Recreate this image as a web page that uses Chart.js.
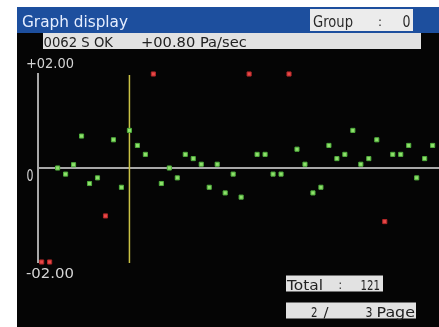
<!DOCTYPE html>
<html><head><meta charset="utf-8">
<script src="https://cdn.jsdelivr.net/npm/chart.js@4"></script>
<style>html,body{margin:0;padding:0;background:#fff;overflow:hidden}canvas{display:block}</style>
</head><body><canvas id="c" width="439" height="327"></canvas>
<script>
const headerTitle = 'Graph display';
const groupText = ['Group', ':', '0'];
const statusText = ['0062 S OK', '+00.80 Pa/sec'];
const yTickValues = [2, 0, -2];
const yTickLabels = ['+02.00', '0', '-02.00'];
const cursorIndex = 11;
const totalText = ['Total', ':', '121'];
const pageText = ['2', '/', '3', 'Page'];
const sampleIndex = [0,1,2,3,4,5,6,7,8,9,10,11,12,13,14,15,16,17,18,19,20,21,22,23,24,25,26,27,28,29,30,31,32,33,34,35,36,37,38,39,40,41,42,43,44,45,46,47,48,49];
const okValues = [null,null,0,-0.13,0.07,0.68,-0.33,-0.21,null,0.60,
                  -0.41,0.80,0.48,0.29,null,-0.33,0,-0.21,0.29,0.20,
                  0.08,-0.41,0.08,-0.53,-0.13,-0.62,null,0.29,0.29,-0.13,
                  -0.13,null,0.40,0.08,-0.53,-0.41,0.48,0.20,0.29,0.80,
                  0.08,0.20,0.60,null,0.29,0.29,0.48,-0.21,0.20,0.48];
const ngValues = [-2,-2,null,null,null,null,null,null,-1.02,null,
                  null,null,null,null,2,null,null,null,null,null,
                  null,null,null,null,null,null,2,null,null,null,
                  null,2,null,null,null,null,null,null,null,null,
                  null,null,null,-1.14,null,null,null,null,null,null];

function toPoints(vals){
  const out=[];
  sampleIndex.forEach((x,i)=>{ if(vals[i]!==null) out.push({x:x,y:vals[i]}); });
  return out;
}

function txt(ctx, s, x, y, w, size, color){
  ctx.save();
  ctx.font = size + 'px "DejaVu Sans"';
  ctx.fillStyle = color;
  ctx.textAlign = 'left';
  ctx.textBaseline = 'alphabetic';
  const m = ctx.measureText(s).width;
  ctx.translate(x, y);
  if (w) ctx.scale(w / m, 1);
  ctx.fillText(s, 0, 0);
  ctx.restore();
}

const screenPlugin = {
  id: 'screen',
  beforeDraw(chart){
    const ctx = chart.ctx;
    ctx.save();
    ctx.fillStyle = '#ffffff'; ctx.fillRect(0,0,439,327);
    ctx.fillStyle = '#050505'; ctx.fillRect(17,7,422,320);
    // header
    ctx.fillStyle = '#1d4f9e'; ctx.fillRect(17,7,422,26);
    txt(ctx, headerTitle, 22, 27, 106, 16, '#e6eeff');
    ctx.fillStyle = '#ececec'; ctx.fillRect(310,9,103,22);
    txt(ctx, groupText[0], 313, 27, 40, 15, '#2a2a2a');
    txt(ctx, groupText[1], 378, 26, 4, 13, '#2a2a2a');
    txt(ctx, groupText[2], 402.5, 27, 8, 15, '#2a2a2a');
    // status
    ctx.fillStyle = '#e2e2e2'; ctx.fillRect(43,33,378,16);
    txt(ctx, statusText[0], 43.5, 46.5, 69.5, 14.5, '#222222');
    txt(ctx, statusText[1], 141, 46.5, 105.7, 14.5, '#222222');
    // total / page
    ctx.fillStyle = '#e2e2e2'; ctx.fillRect(286,275.5,97,16);
    txt(ctx, totalText[0], 287, 289.5, 36, 14.5, '#222222');
    txt(ctx, totalText[1], 338.5, 288.5, 3.5, 13, '#222222');
    txt(ctx, totalText[2], 360.5, 289.5, 19.5, 14.5, '#222222');
    ctx.fillStyle = '#e2e2e2'; ctx.fillRect(286,302.5,130,16);
    txt(ctx, pageText[0], 311, 316.5, 6.5, 14.5, '#222222');
    txt(ctx, pageText[1], 323.5, 316.5, 5, 14.5, '#222222');
    txt(ctx, pageText[2], 365.5, 316.5, 7, 14.5, '#222222');
    txt(ctx, pageText[3], 376.5, 316.5, 38.5, 14.5, '#222222');
    ctx.restore();
  },
  beforeDatasetsDraw(chart){
    const ctx = chart.ctx, xs = chart.scales.x, ys = chart.scales.y;
    ctx.save();
    const top = ys.getPixelForValue(2), bot = ys.getPixelForValue(-2);
    // y axis line
    ctx.strokeStyle = '#a8a8a8'; ctx.lineWidth = 2;
    ctx.beginPath(); ctx.moveTo(38, top - 1); ctx.lineTo(38, bot + 1); ctx.stroke();
    // zero line
    const z = ys.getPixelForValue(0);
    ctx.beginPath(); ctx.moveTo(38, z); ctx.lineTo(439, z); ctx.stroke();
    // cursor
    const cx = xs.getPixelForValue(cursorIndex);
    ctx.strokeStyle = '#c9c244'; ctx.lineWidth = 1.5;
    ctx.beginPath(); ctx.moveTo(cx, top + 1); ctx.lineTo(cx, bot + 1); ctx.stroke();
    // tick labels
    yTickValues.forEach((v,i)=>{
      const p = ys.getPixelForValue(v);
      const s = yTickLabels[i];
      if (v > 0) txt(ctx, s, 26, p - 6.5, 48, 14, '#d4d4d4');
      else if (v < 0) txt(ctx, s, 26, p + 16, 48, 14, '#d4d4d4');
      else txt(ctx, s, 26.5, p + 13, 7, 15, '#d4d4d4');
    });
    ctx.restore();
  }
};

new Chart(document.getElementById('c'), {
  type: 'scatter',
  data: {
    datasets: [
      { label: 'OK', data: toPoints(okValues), pointStyle: 'rect', pointRadius: 2.9,
        backgroundColor: '#8fe06c', borderColor: '#4fae3c', borderWidth: 1, clip: false, showLine: false },
      { label: 'NG', data: toPoints(ngValues), pointStyle: 'rect', pointRadius: 2.9,
        backgroundColor: '#e84848', borderColor: '#b02828', borderWidth: 1, clip: false, showLine: false }
    ]
  },
  options: {
    responsive: false,
    animation: false,
    events: [],
    layout: { padding: { left: 38, right: 0, top: 74, bottom: 65 } },
    scales: {
      x: { type: 'linear', display: false, min: -0.458, max: 49.17 },
      y: { type: 'linear', display: false, min: -2, max: 2 }
    },
    plugins: { legend: { display: false }, tooltip: { enabled: false } }
  },
  plugins: [screenPlugin]
});
</script>
</body></html>
